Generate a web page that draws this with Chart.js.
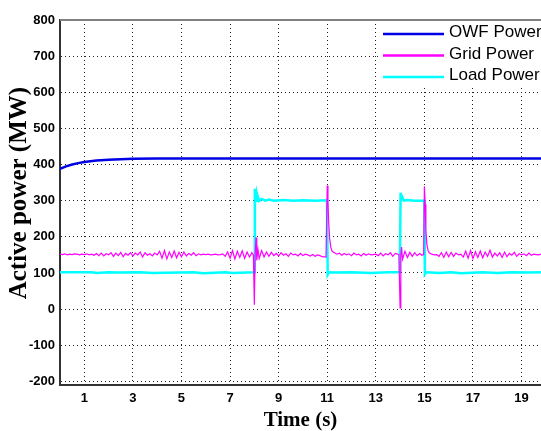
<!DOCTYPE html>
<html>
<head>
<meta charset="utf-8">
<script src="https://cdn.jsdelivr.net/npm/chart.js@4.4.1/dist/chart.umd.min.js"></script>
<style>
html, body { margin: 0; padding: 0; background: #fff; }
#wrap { width: 541px; height: 431px; }
</style>
</head>
<body>
<div id="wrap"><canvas id="chart" width="541" height="431"></canvas></div>
<script>
// series labels and tick labels
var seriesLabels = ["OWF Power", "Grid Power", "Load Power"];
var xTicks = [1, 3, 5, 7, 9, 11, 13, 15, 17, 19];
var yTicks = [-200, -100, 0, 100, 200, 300, 400, 500, 600, 700, 800];

// OWF power (MW)
var owfTime  = [0, 0.25, 0.5, 0.75, 1, 1.5, 2, 2.5, 3, 4, 6, 10, 14, 19.8];
var owfPower = [388, 395, 400, 404, 407, 411, 413, 415, 416, 417, 417, 417, 417, 417];

// grid power (MW)
var gridTime = [
  0, 0.1, 0.2, 0.3, 0.4, 0.5, 0.6, 0.7, 0.8, 0.9,
  1, 1.1, 1.2, 1.3, 1.4, 1.5, 1.6, 1.7, 1.8, 1.9,
  2, 2.1, 2.2, 2.3, 2.4, 2.5, 2.6, 2.7, 2.8, 2.9,
  3, 3.1, 3.2, 3.3, 3.4, 3.5, 3.6, 3.7, 3.8, 3.9,
  4, 4.1, 4.2, 4.3, 4.4, 4.5, 4.6, 4.7, 4.8, 4.9,
  5, 5.1, 5.2, 5.3, 5.4, 5.5, 5.6, 5.7, 5.8, 5.9,
  6, 6.1, 6.2, 6.3, 6.4, 6.5, 6.6, 6.7, 6.8, 6.9,
  7, 7.1, 7.2, 7.3, 7.4, 7.5, 7.6, 7.7, 7.8, 7.9,
  7.96, 8.0, 8.03, 8.07, 8.1, 8.15, 8.2, 8.3, 8.4, 8.5, 8.6, 8.7, 8.8, 8.9,
  9, 9.1, 9.2, 9.3, 9.4, 9.5, 9.6, 9.7, 9.8, 9.9,
  10, 10.1, 10.2, 10.3, 10.4, 10.5, 10.6, 10.7, 10.8, 10.95,
  11.0, 11.03, 11.06, 11.1, 11.15, 11.2, 11.3, 11.4, 11.5, 11.6, 11.7, 11.8, 11.9,
  12, 12.1, 12.2, 12.3, 12.4, 12.5, 12.6, 12.7, 12.8, 12.9,
  13, 13.1, 13.2, 13.3, 13.4, 13.5, 13.6, 13.7, 13.8, 13.95,
  14.0, 14.03, 14.06, 14.1, 14.2, 14.3, 14.4, 14.5, 14.6, 14.7, 14.8, 14.9, 14.97,
  15.0, 15.03, 15.06, 15.1, 15.15, 15.2, 15.3, 15.4, 15.5, 15.6, 15.7, 15.8, 15.9,
  16, 16.1, 16.2, 16.3, 16.4, 16.5, 16.6, 16.7, 16.8, 16.9,
  17, 17.1, 17.2, 17.3, 17.4, 17.5, 17.6, 17.7, 17.8, 17.9,
  18, 18.1, 18.2, 18.3, 18.4, 18.5, 18.6, 18.7, 18.8, 18.9,
  19, 19.1, 19.2, 19.3, 19.4, 19.5, 19.6, 19.7, 19.8
];
var gridPower = [
  152, 151, 153, 150, 152, 151, 153, 152, 150, 152,
  151, 153, 150, 152, 149, 154, 148, 155, 147, 153,
  150, 156, 146, 155, 148, 157, 145, 154, 149, 156,
  147, 155, 150, 158, 144, 156, 149, 153, 147, 155,
  150, 160, 141, 162, 139, 158, 143, 161, 142, 157,
  145, 158, 147, 154, 149, 156, 148, 153, 150, 152,
  151, 152, 150, 151, 152, 150, 151, 153, 146, 158,
  141, 162, 139, 160, 143, 161, 140, 158, 144, 156,
  150, 12, 150, 198, 135, 165, 140, 162, 144, 158, 146, 157, 148, 154,
  147, 156, 149, 153, 146, 155, 150, 152, 147, 154,
  148, 152, 150, 147, 151, 146, 150, 148, 145, 144,
  342, 300, 240, 195, 170, 160, 156, 152, 155, 149, 154, 150, 153,
  148, 155, 150, 152, 147, 154, 149, 153, 150, 151,
  152, 148, 155, 147, 153, 150, 156, 146, 154, 151,
  3, 150, 172, 138, 160, 143, 157, 146, 156, 148, 154, 149, 151,
  340, 290, 220, 180, 162, 156, 152, 150, 151, 146, 156, 143, 158,
  145, 157, 146, 155, 150, 152, 144, 160, 141, 162,
  140, 159, 143, 161, 142, 158, 146, 163, 144, 155,
  147, 156, 143, 158, 145, 154, 149, 157, 146, 153,
  150, 153, 148, 155, 149, 152, 151, 150, 152
];

// load power (MW)
var loadTime = [
  0, 1.3, 1.5, 2.0, 2.4, 3.3, 3.8, 5.5, 5.9, 6.8, 7.1, 7.99,
  8.02, 8.05, 8.08, 8.11, 8.15, 8.2, 8.3, 8.45, 8.6, 8.8, 9.2, 9.6, 10.0, 10.5, 10.99,
  11.02, 11.06, 11.12, 11.3, 12.0, 12.8, 13.5, 13.99,
  14.02, 14.05, 14.09, 14.15, 14.3, 14.6, 14.99,
  15.02, 15.06, 15.12, 15.6, 16.1, 16.5, 17.4, 18.0, 18.6, 19.3, 19.8
];
var loadPower = [
  102, 102, 100, 102, 101, 102, 100, 102, 99, 102, 100, 102,
  333, 305, 318, 300, 310, 299, 305, 300, 303, 300, 302, 300, 301, 300, 301,
  95, 100, 102, 101, 102, 100, 102, 102,
  322, 304, 310, 300, 302, 300, 300,
  97, 101, 102, 100, 102, 99, 102, 100, 102, 101, 102
];

function toPoints(t, v) {
  return t.map(function (x, i) { return { x: x, y: v[i] }; });
}

var tickFont = { family: '"Liberation Sans", Arial, sans-serif', size: 13, weight: 'bold' };

// white legend box in the top right corner + top frame line
var legendBox = {
  id: 'legendBox',
  afterDraw: function (chart) {
    var ctx = chart.ctx, a = chart.chartArea;
    var w = 163, h = 67, x0 = a.right - w, y0 = a.top;
    ctx.save();
    ctx.fillStyle = '#fff';
    ctx.fillRect(x0, y0 + 1, w, h);
    ctx.font = '17px "Liberation Sans", sans-serif';
    ctx.textBaseline = 'alphabetic';
    chart.data.datasets.forEach(function (ds, i) {
      var yy = y0 + 14 + i * 21.5;
      ctx.strokeStyle = ds.borderColor;
      ctx.lineWidth = 2.5;
      ctx.beginPath();
      ctx.moveTo(x0 + 5, yy);
      ctx.lineTo(x0 + 66, yy);
      ctx.stroke();
      ctx.fillStyle = '#000';
      ctx.fillText(ds.label, x0 + 71, yy + 3);
    });
    ctx.strokeStyle = '#808080';
    ctx.lineWidth = 2;
    ctx.beginPath();
    ctx.moveTo(a.left, a.top);
    ctx.lineTo(a.right, a.top);
    ctx.stroke();
    ctx.restore();
  }
};

new Chart(document.getElementById('chart'), {
  type: 'line',
  data: {
    datasets: [
      { label: seriesLabels[0], data: toPoints(owfTime, owfPower), borderColor: '#0000e6', borderWidth: 2.5, order: 2 },
      { label: seriesLabels[1], data: toPoints(gridTime, gridPower), borderColor: '#ff00ff', borderWidth: 1.2, order: 0 },
      { label: seriesLabels[2], data: toPoints(loadTime, loadPower), borderColor: '#00ffff', borderWidth: 2.5, order: 1 }
    ]
  },
  options: {
    responsive: false,
    animation: false,
    devicePixelRatio: 1,
    layout: { padding: { top: 20, right: 0, left: 0, bottom: 0 } },
    elements: { point: { radius: 0 }, line: { tension: 0, fill: false } },
    plugins: { legend: { display: false }, tooltip: { enabled: false } },
    scales: {
      x: {
        type: 'linear', min: 0, max: 19.8,
        afterBuildTicks: function (s) { s.ticks = xTicks.map(function (v) { return { value: v }; }); },
        afterFit: function (s) { s.height = 46; },
        ticks: { font: tickFont, color: '#000', padding: 6, maxRotation: 0 },
        grid: { color: '#222', lineWidth: 1, drawTicks: false },
        border: { display: true, color: '#333', width: 2, dash: [1, 3] },
        title: { display: true, text: 'Time (s)', color: '#000', padding: { top: 0, bottom: 0 },
                 font: { family: '"Liberation Serif", "Times New Roman", serif', size: 21, weight: 'bold', lineHeight: 1 } }
      },
      y: {
        min: -210, max: 800,
        afterBuildTicks: function (s) { s.ticks = yTicks.map(function (v) { return { value: v }; }); },
        afterFit: function (s) { s.width = 60; },
        ticks: { font: tickFont, color: '#000', padding: 5 },
        grid: { color: '#222', lineWidth: 1, drawTicks: false },
        border: { display: true, color: '#333', width: 2, dash: [1, 3] },
        title: { display: true, text: '   Active power (MW)', color: '#000', padding: { top: 7, bottom: 0 },
                 font: { family: '"Liberation Serif", "Times New Roman", serif', size: 25, weight: 'bold', lineHeight: 1 } }
      }
    }
  },
  plugins: [legendBox]
});
</script>
</body>
</html>
